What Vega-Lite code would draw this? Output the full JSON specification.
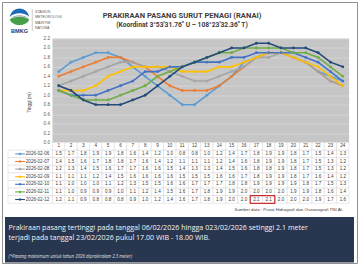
{
"$schema": "https://vega.github.io/schema/vega-lite/v6.json",
"width": 296.5,
"height": 104,
"autosize": {"type": "none"},
"padding": {"left": 52.5, "top": 38.5, "right": 11, "bottom": 123.5},
"background": "#ffffff",
"config": {"view": {"fill": "#c3c3c3", "stroke": null}, "font": "Liberation Sans"},
"datasets": {
"tides": [
{"d":"2026-02-06","h":1,"v":1.5},{"d":"2026-02-06","h":2,"v":1.7},{"d":"2026-02-06","h":3,"v":1.8},{"d":"2026-02-06","h":4,"v":1.9},{"d":"2026-02-06","h":5,"v":1.9},{"d":"2026-02-06","h":6,"v":1.8},{"d":"2026-02-06","h":7,"v":1.6},{"d":"2026-02-06","h":8,"v":1.4},{"d":"2026-02-06","h":9,"v":1.2},{"d":"2026-02-06","h":10,"v":1.0},{"d":"2026-02-06","h":11,"v":0.8},{"d":"2026-02-06","h":12,"v":0.8},{"d":"2026-02-06","h":13,"v":1.0},{"d":"2026-02-06","h":14,"v":1.2},{"d":"2026-02-06","h":15,"v":1.4},{"d":"2026-02-06","h":16,"v":1.7},{"d":"2026-02-06","h":17,"v":1.8},{"d":"2026-02-06","h":18,"v":1.9},{"d":"2026-02-06","h":19,"v":1.9},{"d":"2026-02-06","h":20,"v":1.8},{"d":"2026-02-06","h":21,"v":1.7},{"d":"2026-02-06","h":22,"v":1.5},{"d":"2026-02-06","h":23,"v":1.4},{"d":"2026-02-06","h":24,"v":1.3},
{"d":"2026-02-07","h":1,"v":1.4},{"d":"2026-02-07","h":2,"v":1.5},{"d":"2026-02-07","h":3,"v":1.6},{"d":"2026-02-07","h":4,"v":1.7},{"d":"2026-02-07","h":5,"v":1.8},{"d":"2026-02-07","h":6,"v":1.8},{"d":"2026-02-07","h":7,"v":1.7},{"d":"2026-02-07","h":8,"v":1.6},{"d":"2026-02-07","h":9,"v":1.4},{"d":"2026-02-07","h":10,"v":1.2},{"d":"2026-02-07","h":11,"v":1.1},{"d":"2026-02-07","h":12,"v":1.1},{"d":"2026-02-07","h":13,"v":1.1},{"d":"2026-02-07","h":14,"v":1.2},{"d":"2026-02-07","h":15,"v":1.4},{"d":"2026-02-07","h":16,"v":1.6},{"d":"2026-02-07","h":17,"v":1.8},{"d":"2026-02-07","h":18,"v":1.9},{"d":"2026-02-07","h":19,"v":1.9},{"d":"2026-02-07","h":20,"v":1.8},{"d":"2026-02-07","h":21,"v":1.7},{"d":"2026-02-07","h":22,"v":1.5},{"d":"2026-02-07","h":23,"v":1.3},{"d":"2026-02-07","h":24,"v":1.2},
{"d":"2026-02-08","h":1,"v":1.2},{"d":"2026-02-08","h":2,"v":1.3},{"d":"2026-02-08","h":3,"v":1.4},{"d":"2026-02-08","h":4,"v":1.5},{"d":"2026-02-08","h":5,"v":1.6},{"d":"2026-02-08","h":6,"v":1.7},{"d":"2026-02-08","h":7,"v":1.7},{"d":"2026-02-08","h":8,"v":1.6},{"d":"2026-02-08","h":9,"v":1.6},{"d":"2026-02-08","h":10,"v":1.5},{"d":"2026-02-08","h":11,"v":1.4},{"d":"2026-02-08","h":12,"v":1.3},{"d":"2026-02-08","h":13,"v":1.3},{"d":"2026-02-08","h":14,"v":1.4},{"d":"2026-02-08","h":15,"v":1.5},{"d":"2026-02-08","h":16,"v":1.6},{"d":"2026-02-08","h":17,"v":1.8},{"d":"2026-02-08","h":18,"v":1.8},{"d":"2026-02-08","h":19,"v":1.9},{"d":"2026-02-08","h":20,"v":1.8},{"d":"2026-02-08","h":21,"v":1.7},{"d":"2026-02-08","h":22,"v":1.5},{"d":"2026-02-08","h":23,"v":1.3},{"d":"2026-02-08","h":24,"v":1.2},
{"d":"2026-02-09","h":1,"v":1.1},{"d":"2026-02-09","h":2,"v":1.1},{"d":"2026-02-09","h":3,"v":1.1},{"d":"2026-02-09","h":4,"v":1.2},{"d":"2026-02-09","h":5,"v":1.4},{"d":"2026-02-09","h":6,"v":1.5},{"d":"2026-02-09","h":7,"v":1.6},{"d":"2026-02-09","h":8,"v":1.6},{"d":"2026-02-09","h":9,"v":1.6},{"d":"2026-02-09","h":10,"v":1.6},{"d":"2026-02-09","h":11,"v":1.5},{"d":"2026-02-09","h":12,"v":1.5},{"d":"2026-02-09","h":13,"v":1.5},{"d":"2026-02-09","h":14,"v":1.6},{"d":"2026-02-09","h":15,"v":1.6},{"d":"2026-02-09","h":16,"v":1.7},{"d":"2026-02-09","h":17,"v":1.8},{"d":"2026-02-09","h":18,"v":1.9},{"d":"2026-02-09","h":19,"v":1.9},{"d":"2026-02-09","h":20,"v":1.8},{"d":"2026-02-09","h":21,"v":1.7},{"d":"2026-02-09","h":22,"v":1.6},{"d":"2026-02-09","h":23,"v":1.4},{"d":"2026-02-09","h":24,"v":1.2},
{"d":"2026-02-10","h":1,"v":1.1},{"d":"2026-02-10","h":2,"v":1.0},{"d":"2026-02-10","h":3,"v":1.0},{"d":"2026-02-10","h":4,"v":1.0},{"d":"2026-02-10","h":5,"v":1.1},{"d":"2026-02-10","h":6,"v":1.2},{"d":"2026-02-10","h":7,"v":1.3},{"d":"2026-02-10","h":8,"v":1.5},{"d":"2026-02-10","h":9,"v":1.5},{"d":"2026-02-10","h":10,"v":1.6},{"d":"2026-02-10","h":11,"v":1.6},{"d":"2026-02-10","h":12,"v":1.7},{"d":"2026-02-10","h":13,"v":1.7},{"d":"2026-02-10","h":14,"v":1.7},{"d":"2026-02-10","h":15,"v":1.8},{"d":"2026-02-10","h":16,"v":1.8},{"d":"2026-02-10","h":17,"v":1.9},{"d":"2026-02-10","h":18,"v":1.9},{"d":"2026-02-10","h":19,"v":1.9},{"d":"2026-02-10","h":20,"v":1.9},{"d":"2026-02-10","h":21,"v":1.8},{"d":"2026-02-10","h":22,"v":1.7},{"d":"2026-02-10","h":23,"v":1.5},{"d":"2026-02-10","h":24,"v":1.3},
{"d":"2026-02-11","h":1,"v":1.1},{"d":"2026-02-11","h":2,"v":1.0},{"d":"2026-02-11","h":3,"v":0.9},{"d":"2026-02-11","h":4,"v":0.9},{"d":"2026-02-11","h":5,"v":0.9},{"d":"2026-02-11","h":6,"v":1.0},{"d":"2026-02-11","h":7,"v":1.1},{"d":"2026-02-11","h":8,"v":1.2},{"d":"2026-02-11","h":9,"v":1.4},{"d":"2026-02-11","h":10,"v":1.5},{"d":"2026-02-11","h":11,"v":1.6},{"d":"2026-02-11","h":12,"v":1.7},{"d":"2026-02-11","h":13,"v":1.8},{"d":"2026-02-11","h":14,"v":1.9},{"d":"2026-02-11","h":15,"v":1.9},{"d":"2026-02-11","h":16,"v":2.0},{"d":"2026-02-11","h":17,"v":2.0},{"d":"2026-02-11","h":18,"v":2.0},{"d":"2026-02-11","h":19,"v":2.0},{"d":"2026-02-11","h":20,"v":1.9},{"d":"2026-02-11","h":21,"v":1.9},{"d":"2026-02-11","h":22,"v":1.8},{"d":"2026-02-11","h":23,"v":1.6},{"d":"2026-02-11","h":24,"v":1.4},
{"d":"2026-02-12","h":1,"v":1.2},{"d":"2026-02-12","h":2,"v":1.1},{"d":"2026-02-12","h":3,"v":0.9},{"d":"2026-02-12","h":4,"v":0.8},{"d":"2026-02-12","h":5,"v":0.8},{"d":"2026-02-12","h":6,"v":0.8},{"d":"2026-02-12","h":7,"v":0.9},{"d":"2026-02-12","h":8,"v":1.0},{"d":"2026-02-12","h":9,"v":1.2},{"d":"2026-02-12","h":10,"v":1.4},{"d":"2026-02-12","h":11,"v":1.6},{"d":"2026-02-12","h":12,"v":1.7},{"d":"2026-02-12","h":13,"v":1.8},{"d":"2026-02-12","h":14,"v":1.9},{"d":"2026-02-12","h":15,"v":2.0},{"d":"2026-02-12","h":16,"v":2.0},{"d":"2026-02-12","h":17,"v":2.1},{"d":"2026-02-12","h":18,"v":2.1},{"d":"2026-02-12","h":19,"v":2.0},{"d":"2026-02-12","h":20,"v":2.0},{"d":"2026-02-12","h":21,"v":2.0},{"d":"2026-02-12","h":22,"v":1.9},{"d":"2026-02-12","h":23,"v":1.7},{"d":"2026-02-12","h":24,"v":1.6}
]
},
"resolve": {"scale": {"x": "independent", "y": "independent"}},
"layer": [
{
  "data": {"values": [{}]},
  "layer": [
    {"mark": {"type": "rect", "fill": "transparent", "stroke": "#8f8f8f", "strokeWidth": 1},
     "encoding": {
       "x": {"datum": 0.7, "type": "quantitative", "scale": {"domain": [0, 100], "range": [-52.5, 307.5], "nice": false, "zero": false}, "axis": null},
       "x2": {"datum": 99.3},
       "y": {"datum": 0.94, "type": "quantitative", "scale": {"domain": [0, 100], "range": [-38.5, 227.5], "nice": false, "zero": false}, "axis": null},
       "y2": {"datum": 99.06}}},
    {"mark": {"type": "rect", "fill": "#28364f"},
     "encoding": {"x": {"datum": 1.39, "type": "quantitative"}, "x2": {"datum": 98.33}, "y": {"datum": 81.58, "type": "quantitative"}, "y2": {"datum": 98.68}}},
    {"mark": {"type": "point", "filled": true, "opacity": 1, "size": 380, "shape": "M-1,0.05 C-0.75,-1.1 0.75,-1.1 1,0.05 C0.55,-0.45 -0.55,-0.45 -1,0.05 Z", "color": "#1c6cb5"},
     "encoding": {"x": {"datum": 5.42, "type": "quantitative"}, "y": {"datum": 6.2, "type": "quantitative"}}},
    {"mark": {"type": "point", "filled": true, "opacity": 1, "size": 380, "shape": "M-0.95,0.2 C-0.45,-0.25 0.45,-0.25 0.95,0.2 C0.45,-0.05 -0.45,-0.05 -0.95,0.2 Z", "color": "#9aa4ae"},
     "encoding": {"x": {"datum": 5.42, "type": "quantitative"}, "y": {"datum": 6.2, "type": "quantitative"}}},
    {"mark": {"type": "point", "filled": true, "opacity": 1, "size": 380, "shape": "M-1,0.3 C-0.55,-0.05 0.55,-0.05 1,0.3 C0.75,1.05 -0.75,1.05 -1,0.3 Z", "color": "#45a048"},
     "encoding": {"x": {"datum": 5.42, "type": "quantitative"}, "y": {"datum": 6.2, "type": "quantitative"}}},
    {"mark": {"type": "text", "text": "BMKG", "fontSize": 5.6, "fontWeight": "bold", "color": "#1b3a73", "baseline": "middle"},
     "encoding": {"x": {"datum": 5.42, "type": "quantitative"}, "y": {"datum": 11.84, "type": "quantitative"}}},
    {"mark": {"type": "rule", "color": "#9a9a9a", "strokeWidth": 0.5},
     "encoding": {"x": {"datum": 8.97, "type": "quantitative"}, "y": {"datum": 3.38, "type": "quantitative"}, "y2": {"datum": 11.65}}},
    {"mark": {"type": "text", "text": "STASIUN", "fontSize": 3.6, "color": "#5a5a5a", "align": "left", "baseline": "middle"},
     "encoding": {"x": {"datum": 9.72, "type": "quantitative"}, "y": {"datum": 4.40, "type": "quantitative"}}},
    {"mark": {"type": "text", "text": "METEOROLOGI", "fontSize": 3.6, "color": "#5a5a5a", "align": "left", "baseline": "middle"},
     "encoding": {"x": {"datum": 9.72, "type": "quantitative"}, "y": {"datum": 6.50, "type": "quantitative"}}},
    {"mark": {"type": "text", "text": "MARITIM", "fontSize": 3.6, "color": "#5a5a5a", "align": "left", "baseline": "middle"},
     "encoding": {"x": {"datum": 9.72, "type": "quantitative"}, "y": {"datum": 8.53, "type": "quantitative"}}},
    {"mark": {"type": "text", "text": "NATUNA", "fontSize": 3.6, "color": "#5a5a5a", "align": "left", "baseline": "middle"},
     "encoding": {"x": {"datum": 9.72, "type": "quantitative"}, "y": {"datum": 10.53, "type": "quantitative"}}},
    {"mark": {"type": "text", "text": "PRAKIRAAN PASANG SURUT PENAGI (RANAI)", "font": "Roboto", "fontSize": 7.6, "fontWeight": "bold", "color": "#404040", "align": "center", "baseline": "middle"},
     "encoding": {"x": {"datum": 50.56, "type": "quantitative"}, "y": {"datum": 5.90, "type": "quantitative"}}},
    {"mark": {"type": "text", "text": "(Koordinat 3°53'31.76\" U – 108°23'32.36\" T)", "font": "Roboto", "fontSize": 6.7, "fontWeight": "bold", "color": "#404040", "align": "center", "baseline": "middle"},
     "encoding": {"x": {"datum": 50.56, "type": "quantitative"}, "y": {"datum": 9.29, "type": "quantitative"}}},
    {"mark": {"type": "text", "text": "Sumber data : Pusat Hidrografi dan Oseanografi TNI AL", "fontSize": 4.4, "color": "#404040", "align": "right", "baseline": "middle"},
     "encoding": {"x": {"datum": 95.28, "type": "quantitative"}, "y": {"datum": 78.95, "type": "quantitative"}}},
    {"mark": {"type": "text", "text": "Prakiraan pasang tertinggi pada tanggal 06/02/2026 hingga 023/02/2026 setinggi 2.1 meter", "font": "Open Sans", "fontSize": 7.1, "color": "#f4f4f4", "align": "left", "baseline": "middle"},
     "encoding": {"x": {"datum": 2.36, "type": "quantitative"}, "y": {"datum": 85.71, "type": "quantitative"}}},
    {"mark": {"type": "text", "text": "terjadi pada tanggal 23/02/2026 pukul 17.00 WIB - 18.00 WIB.", "font": "Open Sans", "fontSize": 7.1, "color": "#f4f4f4", "align": "left", "baseline": "middle"},
     "encoding": {"x": {"datum": 2.36, "type": "quantitative"}, "y": {"datum": 89.66, "type": "quantitative"}}},
    {"mark": {"type": "text", "text": "(*Pasang maksimum untuk tahun 2026 diprakirakan 2.3 meter)", "font": "Open Sans", "fontSize": 4.4, "fontStyle": "italic", "color": "#e0e0e0", "align": "left", "baseline": "middle"},
     "encoding": {"x": {"datum": 2.36, "type": "quantitative"}, "y": {"datum": 96.43, "type": "quantitative"}}}
  ]
},
{
  "data": {"name": "tides"},
  "encoding": {
    "x": {"field": "h", "type": "quantitative", "scale": {"domain": [0.5, 24.5], "nice": false, "zero": false}, "axis": null},
    "y": {"field": "v", "type": "quantitative", "scale": {"domain": [0, 2.2], "nice": false, "zero": false},
      "axis": {
        "orient": "left",
        "values": [0,0.04,0.08,0.12,0.16,0.2,0.24,0.28,0.32,0.36,0.4,0.44,0.48,0.52,0.56,0.6,0.64,0.68,0.72,0.76,0.8,0.84,0.88,0.92,0.96,1.0,1.04,1.08,1.12,1.16,1.2,1.24,1.28,1.32,1.36,1.4,1.44,1.48,1.52,1.56,1.6,1.64,1.68,1.72,1.76,1.8,1.84,1.88,1.92,1.96,2.0,2.04,2.08,2.12,2.16,2.2],
        "labelExpr": "round(datum.value*100) % 20 == 0 ? format(datum.value, '.1f') : ''",
        "labelOverlap": false, "labelBound": false,
        "ticks": false, "domain": false, "grid": true,
        "gridColor": {"condition": {"test": "round(datum.value*100) % 20 == 0", "value": "#e3e3e3"}, "value": "#cfcfcf"},
        "gridWidth": 0.6,
        "labelFontSize": 4.6, "labelColor": "#595959", "labelPadding": 3,
        "title": "Tinggi (m)", "titleFontSize": 4.6, "titleFontWeight": "normal", "titleColor": "#404040",
        "titleX": -23, "titleY": 63.5, "titleAngle": 270, "titleAlign": "center", "titleBaseline": "middle"
      }},
    "color": {"field": "d", "type": "nominal",
      "scale": {"domain": ["2026-02-06","2026-02-07","2026-02-08","2026-02-09","2026-02-10","2026-02-11","2026-02-12"],
                "range": ["#5b9bd5","#ed7d31","#a5a5a5","#ffc000","#4472c4","#70ad47","#234a78"]},
      "legend": null}
  },
  "layer": [
    {"mark": {"type": "line", "strokeWidth": 1.6}},
    {"mark": {"type": "point", "filled": true, "size": 8, "opacity": 1}}
  ]
},
{
  "data": {"name": "tides"},
  "encoding": {
    "x": {"field": "h", "type": "ordinal", "scale": {"domain": [1,2,3,4,5,6,7,8,9,10,11,12,13,14,15,16,17,18,19,20,21,22,23,24], "paddingInner": 0, "paddingOuter": 0}, "axis": null},
    "y": {"field": "d", "type": "ordinal", "scale": {"domain": ["hdr","2026-02-06","2026-02-07","2026-02-08","2026-02-09","2026-02-10","2026-02-11","2026-02-12"], "range": [104, 164.8], "paddingInner": 0, "paddingOuter": 0}, "axis": null}
  },
  "layer": [
    {"mark": {"type": "rect", "fill": "#ffffff", "stroke": "#d6d6d6", "strokeWidth": 0.5}},
    {"mark": {"type": "text", "fontSize": 4.6, "color": "#404040", "baseline": "middle"},
     "encoding": {"text": {"field": "v", "type": "quantitative", "format": ".1f"}}},
    {"transform": [{"filter": "datum.d == '2026-02-06'"}],
     "mark": {"type": "rect", "fill": "#ffffff", "stroke": "#d6d6d6", "strokeWidth": 0.5},
     "encoding": {"y": {"datum": "hdr", "type": "ordinal"}}},
    {"transform": [{"filter": "datum.d == '2026-02-06'"}],
     "mark": {"type": "text", "fontSize": 4.6, "color": "#404040", "baseline": "middle"},
     "encoding": {"y": {"datum": "hdr", "type": "ordinal"}, "text": {"field": "h", "type": "ordinal"}}},
    {"transform": [{"filter": "datum.d == '2026-02-12' && datum.v >= 2.1"}, {"aggregate": [{"op": "min", "field": "h", "as": "h0"}, {"op": "max", "field": "h", "as": "h1"}]}],
     "mark": {"type": "rect", "fill": "transparent", "stroke": "#c00000", "strokeWidth": 1},
     "encoding": {"x": {"field": "h0", "type": "ordinal", "bandPosition": 0}, "x2": {"field": "h1", "bandPosition": 1}, "y": {"datum": "2026-02-12", "type": "ordinal"}}}
  ]
},
{
  "data": {"name": "tides"},
  "transform": [{"filter": "datum.h == 1"}],
  "encoding": {
    "y": {"field": "d", "type": "ordinal", "scale": {"domain": ["hdr","2026-02-06","2026-02-07","2026-02-08","2026-02-09","2026-02-10","2026-02-11","2026-02-12"], "range": [104, 164.8], "paddingInner": 0, "paddingOuter": 0}, "axis": null}
  },
  "layer": [
    {"mark": {"type": "rect", "fill": "#ffffff", "stroke": "#d6d6d6", "strokeWidth": 0.5},
     "encoding": {"x": {"datum": 0, "type": "quantitative", "scale": {"domain": [0, 1], "range": [-44.5, 0], "nice": false, "zero": false}, "axis": null}, "x2": {"datum": 1}}},
    {"mark": {"type": "rule", "strokeWidth": 1.1},
     "encoding": {"x": {"datum": 0.16, "type": "quantitative"}, "x2": {"datum": 0.38},
       "color": {"field": "d", "type": "nominal", "scale": {"domain": ["2026-02-06","2026-02-07","2026-02-08","2026-02-09","2026-02-10","2026-02-11","2026-02-12"], "range": ["#5b9bd5","#ed7d31","#a5a5a5","#ffc000","#4472c4","#70ad47","#234a78"]}, "legend": null}}},
    {"mark": {"type": "point", "filled": true, "shape": "diamond", "size": 9, "opacity": 1},
     "encoding": {"x": {"datum": 0.27, "type": "quantitative"},
       "color": {"field": "d", "type": "nominal", "legend": null}}},
    {"mark": {"type": "text", "align": "left", "baseline": "middle", "fontSize": 4.6, "color": "#404040"},
     "encoding": {"x": {"datum": 0.40, "type": "quantitative"}, "text": {"field": "d", "type": "nominal"}}}
  ]
}
]
}
